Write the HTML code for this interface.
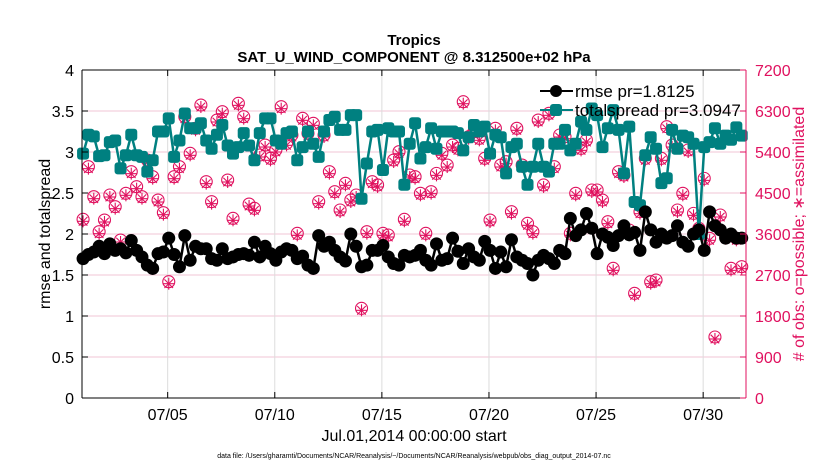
<!DOCTYPE html>
<html><head><meta charset="utf-8"><style>
body{margin:0;background:#fff;width:830px;height:470px;overflow:hidden}
svg{font-family:"Liberation Sans",sans-serif}
</style></head><body>
<svg id="chart" width="830" height="470" viewBox="0 0 830 470" xmlns="http://www.w3.org/2000/svg">
<g id="grid"></g>
<g id="marks"></g>
<g id="axes"></g>
<text x="414" y="45" text-anchor="middle" font-weight="bold" font-size="15">Tropics</text>
<text x="414" y="62" text-anchor="middle" font-weight="bold" font-size="15">SAT_U_WIND_COMPONENT @ 8.312500e+02 hPa</text>
<text x="414" y="441" text-anchor="middle" font-size="16">Jul.01,2014 00:00:00 start</text>
<text x="414" y="458" text-anchor="middle" font-size="7">data file: /Users/gharamti/Documents/NCAR/Reanalysis/~/Documents/NCAR/Reanalysis/webpub/obs_diag_output_2014-07.nc</text>
<text transform="translate(50,234) rotate(-90)" text-anchor="middle" font-size="16">rmse and totalspread</text>
<text transform="translate(804,234) rotate(-90)" text-anchor="middle" font-size="16" fill="#e0115f"># of obs: o=possible; ∗=assimilated</text>
<g>
<line x1="540" y1="91" x2="573" y2="91" stroke="#000" stroke-width="2"/>
<circle cx="556" cy="91" r="6" fill="#000"/>
<text x="575" y="97" font-size="17">rmse pr=1.8125</text>
<line x1="540" y1="110" x2="573" y2="110" stroke="#008080" stroke-width="2"/>
<rect x="550" y="104" width="12" height="12" rx="3" fill="#008080"/>
<text x="575" y="116" font-size="17">totalspread pr=3.0947</text>
</g>
</svg>
<script>
const rmse=[1.70,1.75,1.78,1.85,1.76,1.88,1.80,1.82,1.77,1.92,1.80,1.72,1.62,1.58,1.76,1.78,
1.95,1.75,1.60,1.98,1.68,1.85,1.82,1.82,1.70,1.68,1.82,1.70,1.72,1.75,1.76,1.74,
1.90,1.72,1.85,1.76,1.68,1.78,1.82,1.80,1.70,1.73,1.62,1.58,1.98,1.85,1.90,1.80,
1.72,1.67,2.0,1.85,1.60,1.62,1.80,1.80,1.86,1.72,1.64,1.62,1.74,
1.72,1.74,1.80,1.68,1.62,1.88,1.68,1.70,1.95,1.79,1.64,1.82,1.72,1.68,1.91,
1.80,1.58,1.78,1.60,1.93,1.72,1.68,1.64,1.50,1.68,1.74,1.70,1.64,1.80,1.76,
2.19,1.98,2.05,2.25,2.07,1.76,2.00,1.96,1.86,1.98,2.1,1.99,2.02,1.80,2.27,
2.05,1.90,2.00,1.95,1.98,2.10,1.90,1.85,2.00,2.05,1.80,2.27,2.10,2.05,1.95,2.00,1.95,1.95];
const spread=[2.98,3.21,3.19,2.95,2.96,3.12,3.14,2.80,2.96,3.21,2.96,2.94,2.76,2.90,3.25,3.25,
3.41,2.94,3.14,3.47,3.29,3.29,3.35,3.14,3.04,3.21,3.33,3.08,2.98,3.06,3.23,3.08,
2.90,3.23,3.41,3.41,3.14,3.10,3.23,3.25,2.90,3.06,3.25,3.10,2.94,3.25,3.39,3.43,
3.27,3.27,3.45,3.45,2.43,2.86,3.25,3.27,2.78,3.29,3.25,3.25,2.60,3.10,
3.35,2.92,3.06,3.29,3.04,3.25,3.25,3.25,3.23,3.02,3.18,3.33,3.25,3.31,2.98,3.21,
3.18,2.74,3.06,3.10,2.82,2.60,2.82,3.10,2.82,2.76,3.10,3.10,3.27,3.02,3.10,3.37,
3.27,3.53,3.45,3.06,3.29,3.51,3.27,2.74,3.31,2.39,2.35,2.96,3.18,3.04,2.62,2.68,
3.27,3.04,3.20,3.18,3.10,2.00,3.06,3.12,3.29,3.10,3.20,3.15,3.30,3.20];
const nPossible=[3922,5078,4419,3651,3907,4456,4200,3468,4493,4968,4639,4419,5224,4858,4346,4068,
2553,4858,5078,6175,5371,5920,6431,4749,4310,6102,6285,4785,3944,6468,6175,4258,
4163,5334,5553,5261,5444,6395,5590,5773,3614,6139,5810,6029,4310,5773,4968,4529,
4127,4712,4346,4456,1968,3651,4749,4676,3614,3578,5224,5407,3922,4895,
4858,4493,3614,4529,4931,5371,5114,5553,5480,6504,5736,5846,5700,5261,3907,5920,
5114,5187,4090,5920,5114,3834,3651,6102,4676,6249,5078,5773,5736,3614,4493,5480,
5663,4566,4566,4346,3870,2846,4968,4895,3688,2297,4090,5261,2553,2590,5261,5956,
5553,4127,4493,5444,4053,3724,4821,3505,1339,4017,3541,2846,3505,2883];
const nAssimilated=nPossible;
const yTicks=[0,0.5,1,1.5,2,2.5,3,3.5,4];
const rTicks=[0,900,1800,2700,3600,4500,5400,6300,7200];
const xTickDays=[4,9,14,19,24,29];
const xTickLabels=["07/05","07/10","07/15","07/20","07/25","07/30"];

const NS="http://www.w3.org/2000/svg";
const L=82,R=746,T=70,B=398;
const X=d=>L+(R-L)*d/31;
const Y=v=>B-(B-T)*v/4;
const YR=v=>B-(B-T)*v/7200;
const tOf=i=>i*0.25+0.05;
function mk(tag,attrs,parent){const e=document.createElementNS(NS,tag);for(const k in attrs)e.setAttribute(k,attrs[k]);parent.appendChild(e);return e;}
const grid=document.getElementById('grid'),marks=document.getElementById('marks'),axes=document.getElementById('axes');

yTicks.forEach(v=>{if(v>0&&v<4){const g=mk('line',{x1:L,x2:R,y1:Y(v),y2:Y(v),stroke:'#f2c6d6','stroke-width':1},grid);

}});
xTickDays.forEach(d=>{const g=mk('line',{x1:X(d),x2:X(d),y1:T,y2:B,stroke:'#dcdcdc','stroke-width':1},grid);

});

// obs counts
nPossible.forEach((v,i)=>{const c=mk('circle',{cx:X(tOf(i)),cy:YR(v),r:6,fill:'none',stroke:'#e0115f','stroke-width':1.1},marks);

});
nAssimilated.forEach((v,i)=>{const x=X(tOf(i)),y=YR(v)+2;const g=mk('g',{stroke:'#e0115f','stroke-width':1.1},marks);


mk('line',{x1:x-6,x2:x+6,y1:y,y2:y},g);mk('line',{x1:x,x2:x,y1:y-6,y2:y+6},g);
mk('line',{x1:x-4.3,x2:x+4.3,y1:y-4.3,y2:y+4.3},g);mk('line',{x1:x-4.3,x2:x+4.3,y1:y+4.3,y2:y-4.3},g);});

// spread
const sp=mk('polyline',{points:spread.map((v,i)=>X(tOf(i))+','+Y(v)).join(' '),fill:'none',stroke:'#008080','stroke-width':2.5},marks);


spread.forEach((v,i)=>{const r=mk('rect',{x:X(tOf(i))-6,y:Y(v)-6,width:12,height:12,rx:3,fill:'#008080'},marks);

});
// rmse
const rl=mk('polyline',{points:rmse.map((v,i)=>X(tOf(i))+','+Y(v)).join(' '),fill:'none',stroke:'#000','stroke-width':2.5},marks);


rmse.forEach((v,i)=>{const c=mk('circle',{cx:X(tOf(i)),cy:Y(v),r:6.5,fill:'#000'},marks);

});

// axes
mk('line',{x1:L,x2:R,y1:T,y2:T,stroke:'#000'},axes);
mk('line',{x1:L,x2:R,y1:B,y2:B,stroke:'#000'},axes);
mk('line',{x1:L,x2:L,y1:T,y2:B,stroke:'#000'},axes);
mk('line',{x1:R,x2:R,y1:T,y2:B,stroke:'#e0115f'},axes);
yTicks.forEach(v=>{mk('line',{x1:L,x2:L+6,y1:Y(v),y2:Y(v),stroke:'#000'},axes);
const t=mk('text',{x:L-8,y:Y(v)+6,'text-anchor':'end','font-size':16},axes);t.textContent=String(v);

});
rTicks.forEach(v=>{mk('line',{x1:R-6,x2:R,y1:YR(v),y2:YR(v),stroke:'#e0115f'},axes);
const t=mk('text',{x:R+9,y:YR(v)+6,'font-size':16,fill:'#e0115f'},axes);t.textContent=String(v);

});
xTickDays.forEach((d,k)=>{mk('line',{x1:X(d),x2:X(d),y1:B,y2:B-6,stroke:'#000'},axes);mk('line',{x1:X(d),x2:X(d),y1:T,y2:T+6,stroke:'#000'},axes);
const t=mk('text',{x:X(d),y:B+22,'text-anchor':'middle','font-size':16},axes);t.textContent=xTickLabels[k];

});
</script>
</body></html>
